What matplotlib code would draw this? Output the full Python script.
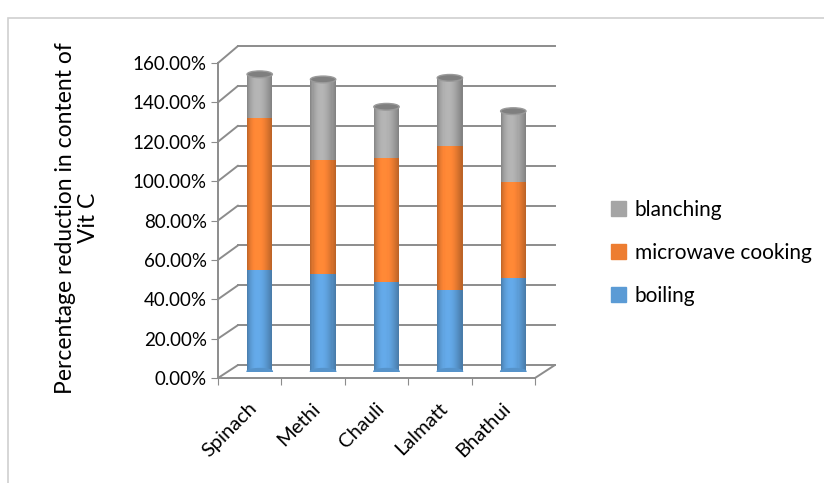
import matplotlib
matplotlib.use("Agg")
from matplotlib import pyplot as plt
from matplotlib.patches import Ellipse, Rectangle, ConnectionPatch
import matplotlib.colors as mcolors
import numpy as np

# 数据
categories = ["Spinach", "Methi", "Chauli", "Lalmatt", "Bhathui"]
boiling = [51.3, 49.2, 45.4, 41.2, 47.0]
microwave = [76.4, 57.8, 62.2, 72.6, 48.8]
blanching = [22.3, 40.4, 26.0, 34.4, 35.6]
series_names = ["boiling", "microwave cooking", "blanching"]
series_colors = ["#5B9BD5", "#ED7D31", "#A5A5A5"]
yticks = [0, 20, 40, 60, 80, 100, 120, 140, 160]

plt.rcParams['font.family'] = ['Lato', 'DejaVu Sans']

W, H = 824, 483
fig = plt.figure(figsize=(W / 100, H / 100), dpi=100)

# 外框
fig.add_artist(Rectangle((8 / W, -0.1), 1.0, 1.1 - 18 / H, transform=fig.transFigure,
                         fill=False, edgecolor="#d0d0d0", linewidth=1.2))

gcol = "#8c8c8c"

def ax_at(left, top, width, height):
    return fig.add_axes([left / W, (H - top - height) / H, width / W, height / H])

back = ax_at(238, 46, 317, 319)
mid = ax_at(228, 54.5, 317, 317)
front = ax_at(218, 63, 317, 315)

for a in (back, mid, front):
    a.set_xlim(0, 5)
    a.set_ylim(0, 160)
    a.patch.set_visible(False)
    for s in a.spines.values():
        s.set_visible(False)
    a.set_xticks([])
    a.set_yticks([])

# 背景网格线
for v in yticks:
    back.plot([0, 5], [v, v], color=gcol, linewidth=1.4, clip_on=False)

# 前轴
front.spines['left'].set_visible(True)
front.spines['bottom'].set_visible(True)
front.spines['left'].set_color(gcol)
front.spines['bottom'].set_color(gcol)
front.spines['left'].set_linewidth(1.4)
front.spines['bottom'].set_linewidth(1.4)
front.set_yticks(yticks)
front.set_yticklabels(["{:.2f}%".format(v) for v in yticks], fontsize=13.5)
front.tick_params(axis='y', length=5, color=gcol, pad=3)
front.set_xticks(range(6), minor=False)
front.set_xticklabels([""] * 6)
front.tick_params(axis='x', length=5, color=gcol)
for i, name in enumerate(categories):
    front.text(i + 0.48, -11, name, rotation=45, ha='right', va='top',
               rotation_mode='anchor', fontsize=14.5)

# 斜线连接前后
for v in yticks:
    fig.add_artist(ConnectionPatch(xyA=(0, v), coordsA=front.transData,
                                   xyB=(0, v), coordsB=back.transData,
                                   color=gcol, linewidth=1.4))
fig.add_artist(ConnectionPatch(xyA=(5, 0), coordsA=front.transData,
                               xyB=(5, 0), coordsB=back.transData,
                               color=gcol, linewidth=1.4))

# 圆柱
bw = 0.4
nstrip = 24
x = np.arange(len(categories)) + 0.5
bottoms = np.zeros(len(categories))
for vals, col in zip([boiling, microwave, blanching], series_colors):
    base = np.array(mcolors.to_rgb(col))
    for k in range(nstrip):
        t = (k + 0.5) / nstrip
        f = 0.78 + 0.32 * np.sin(np.pi * (t ** 0.8))
        c = np.clip(base * f, 0, 1)
        mid.bar(x - bw / 2 + t * bw, vals, width=bw / nstrip + 0.002, bottom=bottoms,
                color=c, linewidth=0)
    bottoms = bottoms + np.array(vals)

for i in range(len(categories)):
    mid.add_patch(Ellipse((x[i], 0), bw, 3.0, color=np.clip(np.array(mcolors.to_rgb(series_colors[0])) * 0.95, 0, 1), zorder=1))
    mid.add_patch(Ellipse((x[i], bottoms[i]), bw, 3.4, facecolor="#7f7f7f",
                          edgecolor="#9a9a9a", linewidth=1, zorder=5))

# y 轴标题
fig.text(77 / W, 1 - 218 / H, "Percentage reduction in content of\nVit C", rotation=90,
         ha='center', va='center', fontsize=16.5, multialignment='center',
         linespacing=1.15)

# 图例
handles = [Rectangle((0, 0), 1, 1, color=c) for c in series_colors]
leg = fig.legend(handles[::-1], series_names[::-1], loc='center left',
                 bbox_to_anchor=(592 / W, 1 - 253 / H), frameon=False, fontsize=15,
                 handlelength=0.75, handleheight=0.75, handletextpad=0.4, labelspacing=1.1)

fig.savefig("out.png", dpi=100)
